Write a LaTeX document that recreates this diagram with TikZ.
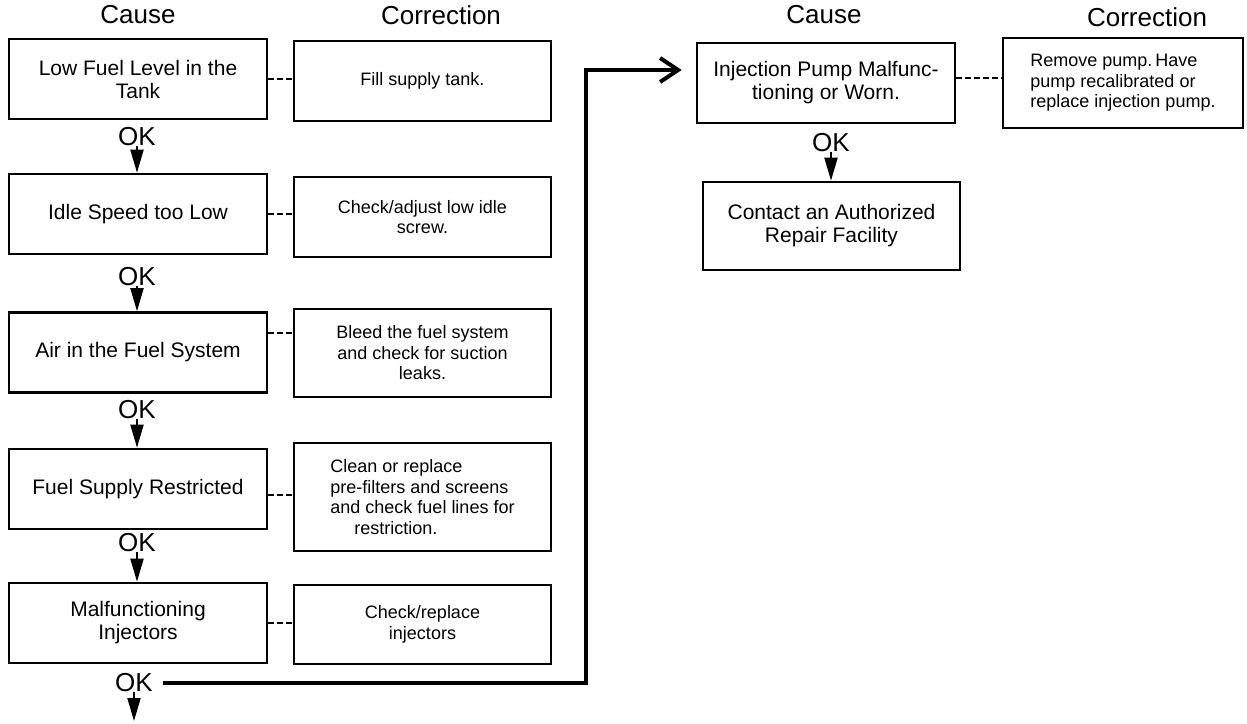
\documentclass[tikz,border=0pt]{standalone}
\usepackage{fontspec}
\setmainfont{Liberation Sans}
\usepackage{tikz}
\usetikzlibrary{arrows.meta,positioning,calc}
\frenchspacing
\tikzset{
  cause/.style   = {draw, line width=2.6pt, rectangle, inner sep=2pt,
                    minimum width=258pt, minimum height=80pt, align=center,
                    font=\fontsize{21}{23}\selectfont},
  remedy/.style  = {draw, line width=2.2pt, rectangle, inner sep=2pt,
                    minimum width=257pt, minimum height=80pt, align=center,
                    font=\fontsize{18}{20.5}\selectfont},
  colhead/.style = {font=\fontsize{26}{28}\selectfont},
  oklab/.style   = {inner sep=0pt, font=\fontsize{26}{27}\selectfont},
  okarrow/.style = {-{Triangle[length=23pt,width=13pt]}, line width=2pt},
  tie/.style     = {line width=1.8pt, dash pattern=on 6pt off 3pt},
  jump/.style    = {line width=4pt, -{Straight Barb[length=18pt,width=24pt]}},
}

\begin{document}
\begin{tikzpicture}[x=1pt,y=-1pt]
\useasboundingbox (0,0) rectangle (1247,723);
% ---- left: cause / correction columns ----
\node[colhead] (hcause) at (138,15) {Cause};
\node[colhead] (hfix) at (441,15) {Correction};
\node[cause] (C1) at (138,79) {Low Fuel Level in the\\Tank};
\node[cause] (C2) at (138,214) {Idle Speed too Low};
\node[cause] (C3) at (138,352.5) {Air in the Fuel System};
\node[cause] (C4) at (138,489) {Fuel Supply Restricted};
\node[cause] (C5) at (138,623) {Malfunctioning\\Injectors};
\node[remedy] (K1) at (422.5,81) {Fill supply tank.};
\node[remedy] (K2) at (422.5,217) {Check/adjust low idle\\screw.};
\node[remedy,minimum height=88pt] (K3) at (422.5,353) {Bleed the fuel system\\and check for suction\\leaks.};
\node[remedy,minimum height=108pt,align=left] (K4) at (422.5,497)
  {Clean or replace\\pre-filters and screens\\and check fuel lines for\\\hspace*{24pt}restriction.};
\node[remedy,minimum height=79pt] (K5) at (422.5,624.5) {Check/replace\\injectors};
\node[oklab] (OK1) at (137,137) {OK};
\node[oklab] (OK2) at (137,277) {OK};
\node[oklab] (OK3) at (137,410) {OK};
\node[oklab] (OK4) at (137,543) {OK};
\node[oklab] (OK5) at (134,683) {OK};
\coordinate (exit) at (134,721);
\draw[okarrow] (OK1.south) -- (OK1.south |- C2.north);
\draw[okarrow] (OK2.south) -- (OK2.south |- C3.north);
\draw[okarrow] (OK3.south) -- (OK3.south |- C4.north);
\draw[okarrow] (OK4.south) -- (OK4.south |- C5.north);
\draw[okarrow] (OK5.south) -- (exit);
\draw[tie] (C1.east) -- (C1.east -| K1.west);
\draw[tie] (C2.east) -- (C2.east -| K2.west);
\draw[tie] ([yshift=19.5pt]C3.east) -- ([yshift=19.5pt]C3.east -| K3.west);
\draw[tie] ([yshift=-6pt]C4.east) -- ([yshift=-6pt]C4.east -| K4.west);
\draw[tie] (C5.east) -- (C5.east -| K5.west);
% ---- right: injection pump ----
\node[colhead] (hcause2) at (824,15) {Cause};
\node[colhead] (hfix2) at (1147,17) {Correction};
\node[cause] (C6) at (826,83) {Injection Pump Malfunc-\\tioning or Worn.};
\node[remedy,minimum width=240pt,minimum height=90pt,align=left] (K6) at (1123,83)
  {Remove pump.\,Have\\pump recalibrated or\\replace injection pump.};
\node[cause,minimum width=257pt,minimum height=88pt] (C7) at (831.5,226) {Contact an Authorized\\Repair Facility};
\node[oklab] (OK6) at (831,143) {OK};
\draw[okarrow] (OK6.south) -- (OK6.south |- C7.north);
\draw[tie] ([yshift=5pt]C6.east) -- ([yshift=5pt]C6.east -| K6.west);
% jump from last OK up to the pump check
\coordinate (riser) at (586,70);
\draw[jump,shorten >=14pt] ([xshift=10pt]OK5.east) -| (riser) -- (riser -| C6.west);
\end{tikzpicture}
\end{document}
